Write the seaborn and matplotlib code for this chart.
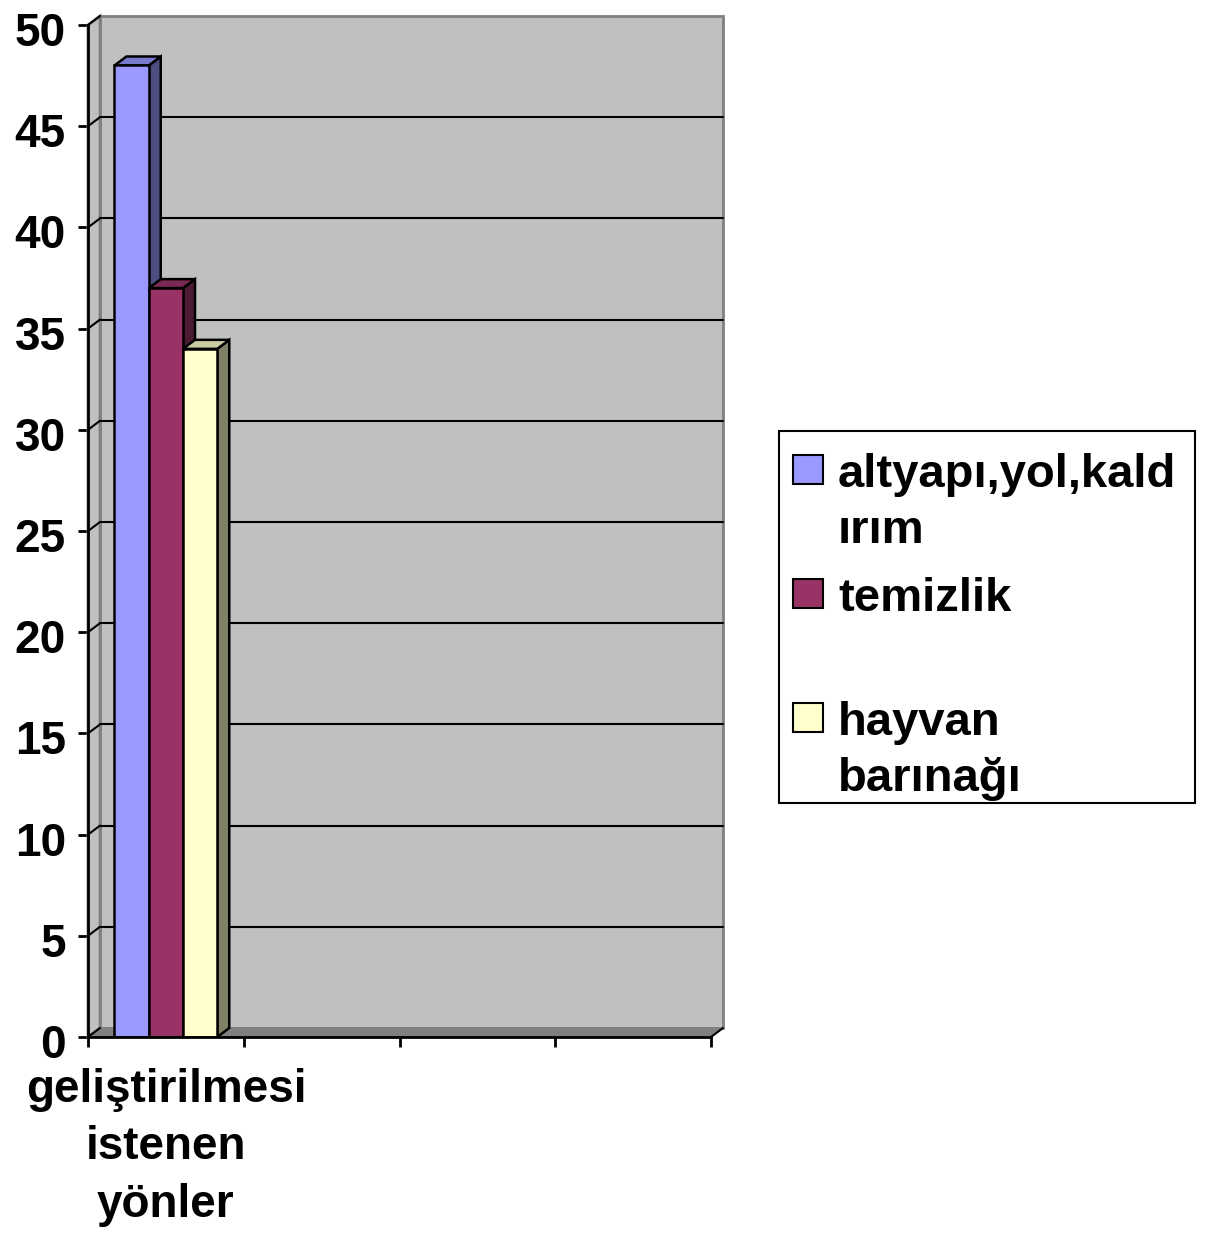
import pandas as pd
import matplotlib
matplotlib.use("Agg")
import matplotlib.pyplot as plt
import matplotlib.transforms as mtransforms
from matplotlib.patches import Polygon, Rectangle
import seaborn as sns

# ----- Data -----
category = ["geliştirilmesi\nistenen\nyönler"]
series = ["altyapı,yol,kaldırım", "temizlik", "hayvan barınağı"]
legend_lines = [["altyapı,yol,kald", "ırım"], ["temizlik"], ["hayvan", "barınağı"]]
values = [48, 37, 34]
front_colors = ["#9999FF", "#993366", "#FFFFCC"]
side_colors = ["#4D4D80", "#4D1A33", "#808066"]
top_colors = ["#7A7ACC", "#7A2952", "#CCCCA3"]
y_ticks = list(range(0, 55, 5))

df = pd.DataFrame({"kategori": category * len(series), "seri": series, "deger": values})

# ----- Style -----
sns.set_style("white")
plt.rcParams["font.family"] = ["Liberation Sans", "DejaVu Sans"]
plt.rcParams["font.weight"] = "bold"
plt.rcParams["text.color"] = "black"
plt.rcParams["xtick.color"] = "black"
plt.rcParams["ytick.color"] = "black"

W, H = 1207, 1244
fig = plt.figure(figsize=(W / 100, H / 100), dpi=100)
ax = fig.add_axes([88 / W, 207 / H, 623 / W, 1012 / H])

sns.barplot(data=df, x="kategori", y="deger", hue="seri", palette=front_colors, saturation=1,
            width=0.66, edgecolor="black", linewidth=1.8, ax=ax, legend=False)

ax.set_xlim(-0.5, 3.5)
ax.set_ylim(0, 50)

# depth of the fake 3d effect, in data units
dx = 12 / (623 / 4)
dy = 9 / (1012 / 50)

# back wall, left wall, floor
ax.add_patch(Polygon([(-0.5 + dx, dy), (3.5 + dx, dy), (3.5 + dx, 50 + dy), (-0.5 + dx, 50 + dy)],
                     closed=True, facecolor="#C0C0C0", edgecolor="#808080", lw=2, zorder=0.5, clip_on=False))
ax.add_patch(Polygon([(-0.5, 0), (-0.5 + dx, dy), (-0.5 + dx, 50 + dy), (-0.5, 50)],
                     closed=True, facecolor="#C0C0C0", edgecolor="#808080", lw=2, zorder=0.6, clip_on=False))
ax.add_patch(Polygon([(-0.5, 0), (3.5, 0), (3.5 + dx, dy), (-0.5 + dx, dy)],
                     closed=True, facecolor="#808080", edgecolor="#808080", lw=1, zorder=0.7, clip_on=False))

# gridlines on the wall
for y in y_ticks[1:-1]:
    ax.plot([-0.5 + dx, 3.5 + dx], [y + dy, y + dy], color="black", lw=1.5, zorder=0.8, clip_on=False)
for y in y_ticks:
    ax.plot([-0.5, -0.5 + dx], [y, y + dy], color="black", lw=1.5, zorder=0.8, clip_on=False)
ax.plot([3.5, 3.5 + dx], [0, dy], color="black", lw=1.5, zorder=0.8, clip_on=False)

# side and top faces of bars
for i, bar in enumerate(ax.patches[:len(values)]):
    x0 = bar.get_x()
    x1 = x0 + bar.get_width()
    h = bar.get_height()
    bar.set_zorder(3 + 2 * i)
    ax.add_patch(Polygon([(x1, 0), (x1 + dx, dy), (x1 + dx, h + dy), (x1, h)], closed=True,
                         facecolor=side_colors[i], edgecolor="black", lw=1.8, zorder=2 + 2 * i))
    ax.add_patch(Polygon([(x0, h), (x0 + dx, h + dy), (x1 + dx, h + dy), (x1, h)], closed=True,
                         facecolor=top_colors[i], edgecolor="black", lw=1.8, zorder=2 + 2 * i))

# axes
for s in ["top", "right"]:
    ax.spines[s].set_visible(False)
for s in ["left", "bottom"]:
    ax.spines[s].set_color("black")
    ax.spines[s].set_linewidth(2)
    ax.spines[s].set_zorder(20)

ax.set_yticks(y_ticks)
ax.set_yticklabels([str(v) for v in y_ticks], fontsize=33, fontweight="bold")
ax.set_xticks([-0.5, 0.5, 1.5, 2.5, 3.5])
ax.set_xticklabels([])
ax.set_xticks([0], minor=True)
ax.set_xticklabels(category, minor=True, fontsize=33, fontweight="bold", linespacing=1.4)
ax.tick_params(axis="both", which="major", direction="out", length=7, width=2,
               left=True, bottom=True)
ax.tick_params(axis="x", which="minor", length=0, pad=22)
ax.tick_params(axis="y", pad=9)
shift = mtransforms.ScaledTranslation(0, -4 / 100, fig.dpi_scale_trans)
for lab in ax.get_yticklabels():
    lab.set_transform(lab.get_transform() + shift)
ax.set_xlabel("")
ax.set_ylabel("")

# legend, drawn by hand to keep Excel's layout
fig.patches.append(Rectangle((779 / W, 1 - 803 / H), 416 / W, 372 / H, transform=fig.transFigure,
                             facecolor="white", edgecolor="black", lw=1.5))
for i, lines in enumerate(legend_lines):
    base = 487 + 124 * i
    fig.patches.append(Rectangle((793 / W, 1 - (base - 3) / H), 30 / W, 29 / H, transform=fig.transFigure,
                                 facecolor=front_colors[i], edgecolor="black", lw=1.5))
    for j, line in enumerate(lines):
        fig.text(838 / W, 1 - (base + 56 * j) / H, line, fontsize=34, fontweight="bold",
                 va="baseline", ha="left")

fig.savefig("out.png", dpi=100)
